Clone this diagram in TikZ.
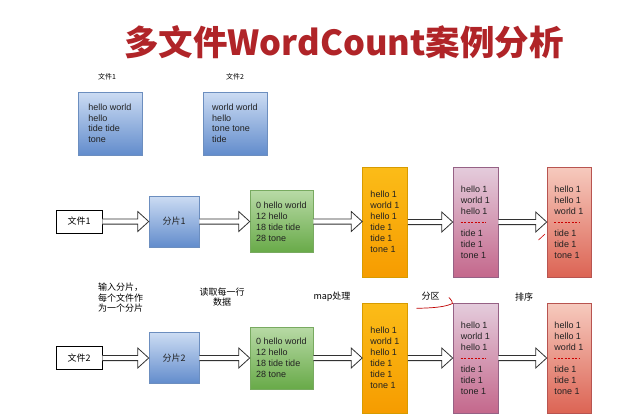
\documentclass[tikz,border=0pt]{standalone}
\usepackage{fontspec}
\setmainfont{Liberation Sans}
\newfontfamily\cjk{Noto Sans CJK SC}
\usetikzlibrary{calc}
\definecolor{titlered}{RGB}{176,36,40}
\definecolor{txt}{RGB}{34,34,34}
\definecolor{bluetop}{RGB}{204,220,243}
\definecolor{bluebot}{RGB}{98,140,204}
\definecolor{blueline}{RGB}{108,142,191}
\definecolor{greentop}{RGB}{184,218,166}
\definecolor{greenbot}{RGB}{104,170,72}
\definecolor{greenline}{RGB}{120,170,96}
\definecolor{orangetop}{RGB}{251,188,24}
\definecolor{orangebot}{RGB}{246,156,0}
\definecolor{orangeline}{RGB}{215,155,0}
\definecolor{purpletop}{RGB}{228,204,220}
\definecolor{purplebot}{RGB}{196,104,140}
\definecolor{purpleline}{RGB}{150,97,133}
\definecolor{redtop}{RGB}{246,202,190}
\definecolor{redbot}{RGB}{220,100,84}
\definecolor{redline}{RGB}{184,84,80}
\definecolor{arrowline}{RGB}{50,50,50}
\tikzset{
  box/.style={draw, line width=0.6pt, inner sep=0pt, align=left, text=txt,
    font=\fontsize{9}{11}\selectfont},
  topbox/.style={box, draw=blueline, top color=bluetop, bottom color=bluebot,
    minimum width=64pt, minimum height=63pt, font=\fontsize{9}{10.5}\selectfont},
  splitbox/.style={box, draw=blueline, top color=bluetop, bottom color=bluebot,
    minimum width=50pt, minimum height=51pt, font=\cjk\fontsize{9}{11}\selectfont},
  filebox/.style={box, draw=black, fill=white, minimum width=46pt, minimum height=23pt,
    font=\cjk\fontsize{9}{11}\selectfont, text=black},
  greenbox/.style={box, draw=greenline, top color=greentop, bottom color=greenbot,
    minimum width=63pt, minimum height=62pt},
  orangebox/.style={box, draw=orangeline, top color=orangetop, bottom color=orangebot,
    minimum width=45pt, minimum height=110pt},
  purplebox/.style={box, draw=purpleline, top color=purpletop, bottom color=purplebot,
    minimum width=45pt, minimum height=110pt},
  redbox/.style={box, draw=redline, top color=redtop, bottom color=redbot,
    minimum width=44pt, minimum height=110pt},
  hollow/.style={draw=arrowline, fill=white, line width=0.8pt, line join=miter},
  sepline/.style={draw=red!80!black, line width=0.5pt, dash pattern=on 2.4pt off 1.1pt},
  caption/.style={font=\cjk\fontsize{9}{10.5}\selectfont, text=black, inner sep=0pt},
  smallcap/.style={font=\cjk\fontsize{7}{8}\selectfont, text=black, inner sep=0pt},
  scribble/.style={draw=red!75!black, line width=0.7pt, line cap=round, line join=round}
}
\newcommand\blockarrow[2]{%
  \filldraw[hollow] let \p1=(#1.east), \p2=(#2.west) in
    (\x1,\y1+2.6pt) -- (\x2-11pt,\y1+2.6pt) -- (\x2-11pt,\y1+10pt) -- (\x2,\y1)
    -- (\x2-11pt,\y1-10pt) -- (\x2-11pt,\y1-2.6pt) -- (\x1,\y1-2.6pt);}
\begin{document}
\begin{tikzpicture}[x=1pt,y=-1pt]
\fill[white] (0,0) rectangle (635,418);
\useasboundingbox (0,0) rectangle (635,418);

% title
\node[font=\cjk\bfseries\fontsize{34.5}{40}\selectfont, text=titlered, inner sep=0pt] (title) at (344,42.5) {多文件WordCount案例分析};

% source files
\node[smallcap] (lab1) at (107,77) {文件1};
\node[smallcap] (lab2) at (235,77) {文件2};
\node[topbox] (src1) at (110,123.5) {hello world\\hello\\tide tide\\tone};
\node[topbox] (src2) at (235,123.5) {world world\\hello\\tone tone\\tide};

% row 1
\node[filebox] (in1) at (79,221.5) {文件1};
\node[splitbox] (sp1) at (174,221.5) {分片1};
\node[greenbox] (gr1) at (281.5,221.5) {0 hello world\\12 hello\\18 tide tide\\28 tone};
\node[orangebox] (or1) at (385,222) {hello 1\\world 1\\hello 1\\tide 1\\tide 1\\tone 1};
\node[purplebox] (pu1) at (475.5,222) {hello 1\\world 1\\hello 1\\\strut\\tide 1\\tide 1\\tone 1};
\node[redbox] (re1) at (569,222) {hello 1\\hello 1\\world 1\\\strut\\tide 1\\tide 1\\tone 1};

% row 2
\node[filebox] (in2) at (79,358) {文件2};
\node[splitbox] (sp2) at (174,358) {分片2};
\node[greenbox] (gr2) at (281.5,358) {0 hello world\\12 hello\\18 tide tide\\28 tone};
\node[orangebox] (or2) at (385,358) {hello 1\\world 1\\hello 1\\tide 1\\tide 1\\tone 1};
\node[purplebox] (pu2) at (475.5,358) {hello 1\\world 1\\hello 1\\\strut\\tide 1\\tide 1\\tone 1};
\node[redbox] (re2) at (569,358) {hello 1\\hello 1\\world 1\\\strut\\tide 1\\tide 1\\tone 1};

% separators
\foreach \n in {pu1,re1,pu2,re2}
  \draw[sepline] ([xshift=-15pt]\n.center) -- ([xshift=10pt]\n.center);

% arrows
\blockarrow{in1}{sp1}
\blockarrow{sp1}{gr1}
\blockarrow{gr1}{or1}
\blockarrow{or1}{pu1}
\blockarrow{pu1}{re1}
\blockarrow{in2}{sp2}
\blockarrow{sp2}{gr2}
\blockarrow{gr2}{or2}
\blockarrow{or2}{pu2}
\blockarrow{pu2}{re2}

% step captions
\node[caption, align=left] (cap1) at (120.5,298) {输入分片，\\每个文件作\\为一个分片};
\node[caption, align=center, font=\cjk\fontsize{9}{10}\selectfont] (cap2) at (222,297) {读取每一行\\数据};
\node[caption] (cap3) at (332,297) {map处理};
\node[caption] (cap4) at (430.5,296) {分区};
\node[caption] (cap5) at (524,297) {排序};

% hand-drawn red marks
\draw[scribble] (416.7,308.3) .. controls (430,308) and (444,307.5) .. (452.5,303.5)
  .. controls (452,301) .. (449,297.5);
\draw[draw=red!80!black, line width=0.6pt, line cap=round] (538.5,240) -- (545,234);
\end{tikzpicture}
\end{document}
